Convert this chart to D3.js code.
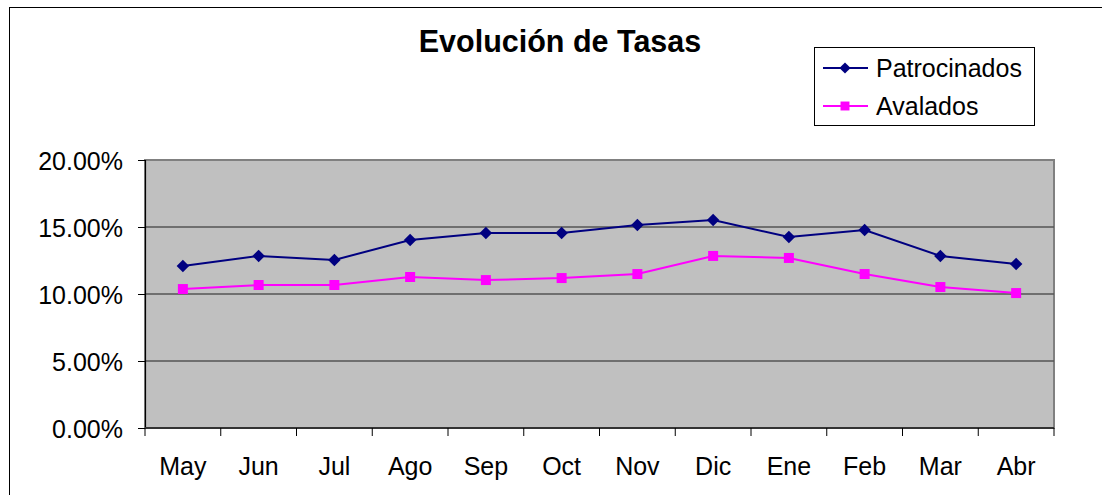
<!DOCTYPE html>
<html>
<head>
<meta charset="utf-8">
<script src="https://cdn.jsdelivr.net/npm/d3@7"></script>
<style>
  body { margin: 0; background: #fff; }
  svg text { font-family: "Liberation Sans", Arial, sans-serif; fill: #000; }
</style>
</head>
<body>
<svg id="chart" width="1102" height="495"></svg>
<script>
// chart data
var months = ['May', 'Jun', 'Jul', 'Ago', 'Sep', 'Oct', 'Nov', 'Dic', 'Ene', 'Feb', 'Mar', 'Abr']
var patrocinados = [0.1209, 0.1284, 0.1254, 0.1403, 0.1455, 0.1455, 0.1515, 0.1552, 0.1425, 0.1478, 0.1284, 0.1224]
var avalados = [0.1037, 0.1067, 0.1067, 0.1127, 0.1104, 0.1119, 0.1149, 0.1284, 0.1269, 0.1149, 0.1052, 0.1007]
var yTicks = [0, 0.05, 0.10, 0.15, 0.20]

var svg = d3.select('#chart')
var plot = {left: 145, right: 1054, top: 160, bottom: 428}

// outer chart border (runs off the right / bottom of the picture)
svg.append('rect')
  .attr('x', 9.5).attr('y', 7.5).attr('width', 1110).attr('height', 500)
  .attr('fill', '#fff').attr('stroke', '#000').attr('stroke-width', 1)

var x = d3.scaleBand().domain(months).range([plot.left, plot.right])
var y = d3.scaleLinear().domain([0, 0.20]).range([plot.bottom, plot.top])

// plot area
svg.append('rect')
  .attr('x', plot.left).attr('y', plot.top)
  .attr('width', plot.right - plot.left).attr('height', plot.bottom - plot.top)
  .attr('fill', '#c0c0c0').attr('stroke', '#808080').attr('stroke-width', 2)

// gridlines
svg.append('g').selectAll('line')
  .data(yTicks.slice(1, 4))
  .enter().append('line')
  .attr('x1', plot.left).attr('x2', plot.right)
  .attr('y1', function (d) { return y(d) }).attr('y2', function (d) { return y(d) })
  .attr('stroke', '#555').attr('stroke-width', 1.5)

// y axis
var yAxis = svg.append('g')
  .attr('transform', 'translate(' + plot.left + ',0)')
  .call(d3.axisLeft(y).tickValues(yTicks).tickFormat(d3.format('.2%')).tickSize(7).tickPadding(15))
yAxis.select('.domain').attr('stroke', '#000').attr('stroke-width', 1.2)
yAxis.selectAll('.tick line').attr('stroke', '#000')
yAxis.selectAll('text').style('font-size', '25px').attr('dy', '0.36em')

// x axis, ticks on the band edges
var xAxis = svg.append('g')
  .attr('transform', 'translate(0,' + plot.bottom + ')')
  .call(d3.axisBottom(x).tickSize(0).tickPadding(29))
xAxis.select('.domain').remove()
xAxis.selectAll('text').style('font-size', '25px')
svg.append('line')
  .attr('x1', plot.left).attr('x2', plot.right)
  .attr('y1', plot.bottom).attr('y2', plot.bottom)
  .attr('stroke', '#333').attr('stroke-width', 2)
svg.append('g').selectAll('line')
  .data(months.concat(['end']))
  .enter().append('line')
  .attr('x1', function (d, i) { return plot.left + i * x.step() })
  .attr('x2', function (d, i) { return plot.left + i * x.step() })
  .attr('y1', plot.bottom).attr('y2', plot.bottom + 8)
  .attr('stroke', '#000')

var cx = function (d, i) { return x(months[i]) + x.bandwidth() / 2 }
var line = d3.line().x(cx).y(function (d) { return y(d) })

// diamond = square turned 45 degrees, like the excel marker
var series = [
  {name: 'Patrocinados', values: patrocinados, color: '#000080', size: 78, rot: 45},
  {name: 'Avalados', values: avalados, color: '#ff00ff', size: 100, rot: 0}
]

series.forEach(function (s) {
  svg.append('path')
    .datum(s.values)
    .attr('d', line)
    .attr('fill', 'none').attr('stroke', s.color).attr('stroke-width', 2)
  svg.append('g').selectAll('path')
    .data(s.values)
    .enter().append('path')
    .attr('d', d3.symbol().type(d3.symbolSquare).size(s.size))
    .attr('transform', function (d, i) { return 'translate(' + cx(d, i) + ',' + y(d) + ') rotate(' + s.rot + ')' })
    .attr('fill', s.color)
})

// title
svg.append('text')
  .attr('x', 560).attr('y', 52)
  .attr('text-anchor', 'middle')
  .style('font-size', '30.5px').style('font-weight', 'bold')
  .text('Evolución de Tasas')

// legend
var legend = svg.append('g')
legend.append('rect')
  .attr('x', 814.5).attr('y', 47.5).attr('width', 220).attr('height', 78)
  .attr('fill', '#fff').attr('stroke', '#000').attr('stroke-width', 1)
series.forEach(function (s, i) {
  var ly = 68 + i * 38
  legend.append('line')
    .attr('x1', 823).attr('x2', 868).attr('y1', ly).attr('y2', ly)
    .attr('stroke', s.color).attr('stroke-width', 2)
  legend.append('path')
    .attr('d', d3.symbol().type(d3.symbolSquare).size(s.size * 0.8))
    .attr('transform', 'translate(845,' + ly + ') rotate(' + s.rot + ')')
    .attr('fill', s.color)
  legend.append('text')
    .attr('x', 876).attr('y', ly + 9)
    .style('font-size', '25px')
    .text(s.name)
})
</script>
</body>
</html>
